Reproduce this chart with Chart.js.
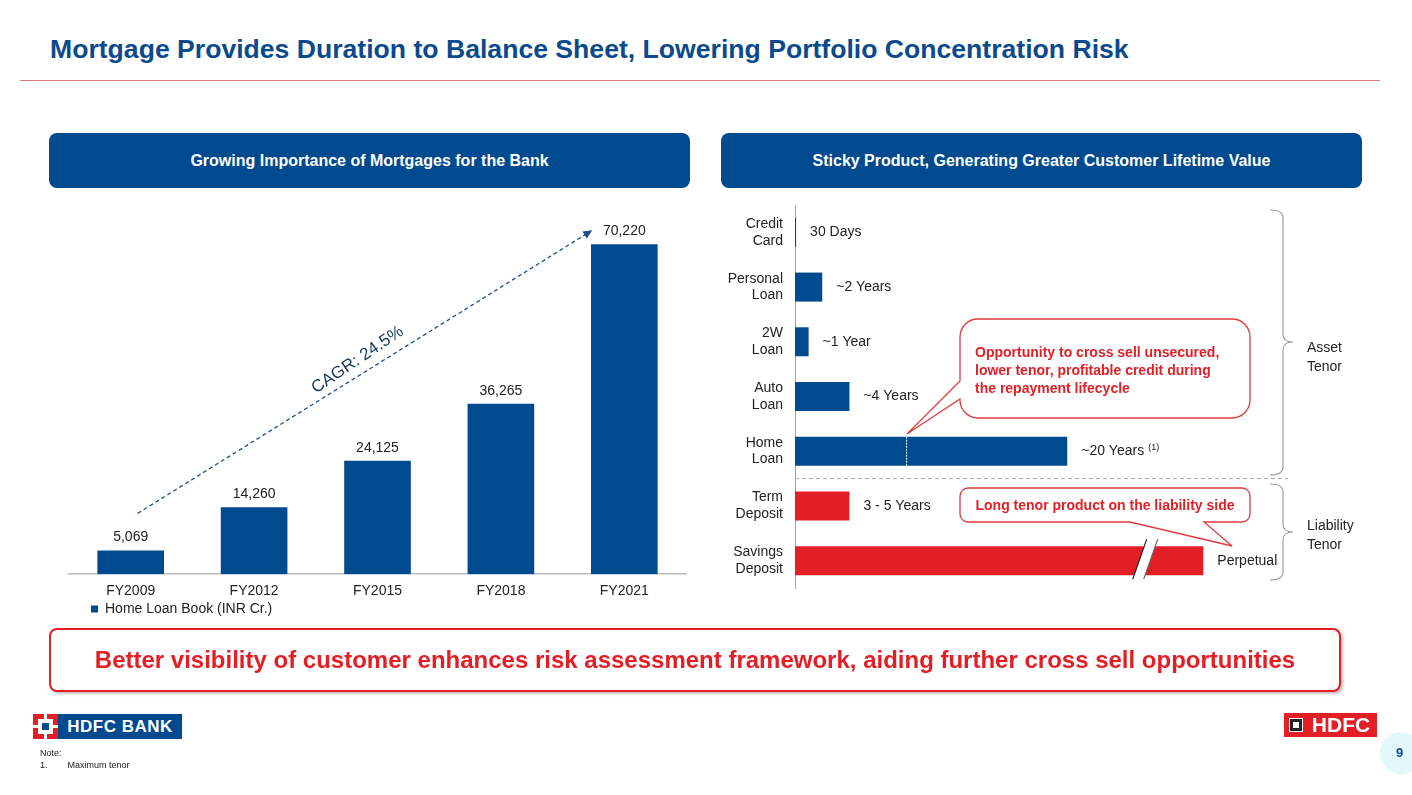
<!DOCTYPE html>
<html>
<head>
<meta charset="utf-8">
<script src="https://cdn.jsdelivr.net/npm/chart.js@4.4.1/dist/chart.umd.min.js"></script>
<style>
  body { margin:0; width:1412px; height:795px; position:relative; overflow:hidden; background:#fff;
         font-family:"Liberation Sans", Arial, sans-serif; color:#222; }
  .abs { position:absolute; }
  .title { left:50px; top:34px; font-size:26.6px; font-weight:bold; color:#0b4a8c; white-space:nowrap; }
  .rule { left:20px; top:80px; width:1360px; height:1px; background:#d9787d; }
  .hdr { top:133px; width:641px; height:55px; background:#004a8f; border-radius:8px; color:#fff;
         font-weight:bold; font-size:16px; display:flex; align-items:center; justify-content:center; }
  .banner { left:49px; top:628px; width:1288px; height:60px; border:2px solid #e31e24; border-radius:8px;
            box-shadow:2px 2px 3px rgba(0,0,0,0.25); color:#e31e24; font-weight:bold; font-size:24px;
            display:flex; align-items:center; justify-content:center; white-space:nowrap; background:#fff; }
  .side { font-size:14px; line-height:19px; color:#222; }
  .note { left:40px; top:747px; font-size:9px; line-height:12px; color:#222; }
</style>
</head>
<body>
<div class="abs title">Mortgage Provides Duration to Balance Sheet, Lowering Portfolio Concentration Risk</div>
<div class="abs rule"></div>
<div class="abs hdr" style="left:49px">Growing Importance of Mortgages for the Bank</div>
<div class="abs hdr" style="left:721px">Sticky Product, Generating Greater Customer Lifetime Value</div>

<canvas id="loanChart" class="abs" width="640" height="460" style="left:60px;top:195px"></canvas>
<canvas id="tenorChart" class="abs" width="580" height="395" style="left:720px;top:200px"></canvas>

<svg class="abs" style="left:0;top:0" width="1412" height="795">
  <path d="M978,319 H1232 A18,18 0 0 1 1250,337 V400 A18,18 0 0 1 1232,418 H978 A18,18 0 0 1 960,400 V399 L907,434 L960,381 V337 A18,18 0 0 1 978,319 Z"
        fill="#fff" stroke="#e03a3e" stroke-width="1.3"/>
  <path d="M968,488 H1242 A8,8 0 0 1 1250,496 V514 A8,8 0 0 1 1242,522 H1204 L1232,546 L1130,522 H968 A8,8 0 0 1 960,514 V496 A8,8 0 0 1 968,488 Z"
        fill="#fff" stroke="#e03a3e" stroke-width="1.3"/>
  <path d="M1270,210 Q1283,210 1283,218 V334 Q1283,342 1293,342 Q1283,342 1283,350 V467 Q1283,475 1270,475"
        fill="none" stroke="#a0a0a0" stroke-width="1.2"/>
  <path d="M1270,484 Q1283,484 1283,492 V524 Q1283,532 1293,532 Q1283,532 1283,540 V572 Q1283,580 1270,580"
        fill="none" stroke="#a0a0a0" stroke-width="1.2"/>
  <circle cx="1401" cy="753" r="21" fill="#e3f8fb"/>
</svg>

<div class="abs" style="left:975px;top:343px;font-size:14px;line-height:18px;font-weight:bold;color:#e31e24;white-space:nowrap">
  Opportunity to cross sell unsecured,<br>lower tenor, profitable credit during<br>the repayment lifecycle</div>
<div class="abs" style="left:960px;top:497px;width:290px;text-align:center;font-size:14px;font-weight:bold;color:#e31e24;white-space:nowrap">
  Long tenor product on the liability side</div>
<div class="abs side" style="left:1307px;top:338px">Asset<br>Tenor</div>
<div class="abs side" style="left:1307px;top:516px">Liability<br>Tenor</div>

<div class="abs banner">Better visibility of customer enhances risk assessment framework, aiding further cross sell opportunities</div>

<!-- logos -->
<div class="abs" style="left:33px;top:714px;width:25px;height:25px;background:#e31e24"></div>
<div class="abs" style="left:44px;top:714px;width:3px;height:25px;background:#fff"></div>
<div class="abs" style="left:33px;top:725px;width:25px;height:3px;background:#fff"></div>
<div class="abs" style="left:38px;top:719px;width:15px;height:15px;background:#fff"></div>
<div class="abs" style="left:42px;top:723px;width:7px;height:7px;background:#004a8f"></div>
<div class="abs" style="left:58px;top:714px;width:124px;height:25px;background:#004a8f;color:#fff;font-weight:bold;font-size:17px;line-height:25px;text-align:center;letter-spacing:0.5px">HDFC BANK</div>

<div class="abs" style="left:1284px;top:713px;width:93px;height:24px;background:#e31e24"></div>
<div class="abs" style="left:1289px;top:718px;width:14px;height:14px;background:#222;border:1px solid #fff;box-sizing:border-box"></div>
<div class="abs" style="left:1293px;top:722px;width:6px;height:6px;background:#fff"></div>
<div class="abs" style="left:1306px;top:713px;width:70px;height:24px;color:#fff;font-weight:bold;font-size:21px;line-height:24px;text-align:center">HDFC</div>

<div class="abs" style="left:1396px;top:745px;font-size:13px;font-weight:bold;color:#0b4a8c">9</div>
<div class="abs note">Note:<br>1.&nbsp;&nbsp;&nbsp;&nbsp;&nbsp;&nbsp;&nbsp;&nbsp;Maximum tenor</div>

<script>
// left chart data
var fiscalYears = ["FY2009", "FY2012", "FY2015", "FY2018", "FY2021"];
var homeLoanBook = [5069, 14260, 24125, 36265, 70220];
var cagrLabel = "CAGR: 24.5%";

// right chart data
var products = [["Credit", "Card"], ["Personal", "Loan"], ["2W", "Loan"], ["Auto", "Loan"],
                ["Home", "Loan"], ["Term", "Deposit"], ["Savings", "Deposit"]];
var tenorYears = [0.08, 2, 1, 4, 20, 4, 30];
var tenorLabels = ["30 Days", "~2 Years", "~1 Year", "~4 Years", "~20 Years", "3 - 5 Years", "Perpetual"];
var firstLiability = 5;

var blue = '#004a8f';
var red = '#e31e24';
var fontFamily = '"Liberation Sans", Arial, sans-serif';
Chart.defaults.font.family = fontFamily;

var loanPlugin = {
    id: 'loanLabels',
    afterLayout: function (chart) {
        // pull the legend up closer to the axis labels
        chart.legend.top -= 29;
        chart.legend.bottom -= 29;
    },
    afterDatasetsDraw: function (chart) {
        var ctx = chart.ctx;
        var bars = chart.getDatasetMeta(0).data;
        ctx.save();
        ctx.font = '14px ' + fontFamily;
        ctx.fillStyle = '#222';
        ctx.textAlign = 'center';
        ctx.textBaseline = 'bottom';
        bars.forEach(function (bar, i) {
            ctx.fillText(homeLoanBook[i].toLocaleString('en-US'), bar.x, bar.y - 6);
        });

        // CAGR arrow
        var first = bars[0], last = bars[bars.length - 1];
        var x1 = first.x + 7, y1 = first.y - 37;
        var x2 = last.x - 32, y2 = last.y - 14;
        var ang = Math.atan2(y2 - y1, x2 - x1);
        ctx.strokeStyle = '#1f4e89';
        ctx.lineWidth = 1.3;
        ctx.setLineDash([4, 3]);
        ctx.beginPath();
        ctx.moveTo(x1, y1);
        ctx.lineTo(x2 - 6 * Math.cos(ang), y2 - 6 * Math.sin(ang));
        ctx.stroke();
        ctx.setLineDash([]);
        ctx.fillStyle = '#1f4e89';
        ctx.beginPath();
        ctx.moveTo(x2, y2);
        ctx.lineTo(x2 - 9 * Math.cos(ang) + 4 * Math.sin(ang), y2 - 9 * Math.sin(ang) - 4 * Math.cos(ang));
        ctx.lineTo(x2 - 9 * Math.cos(ang) - 4 * Math.sin(ang), y2 - 9 * Math.sin(ang) + 4 * Math.cos(ang));
        ctx.closePath();
        ctx.fill();

        var mx = (x1 + x2) / 2 + 14 * Math.sin(ang);
        var my = (y1 + y2) / 2 - 14 * Math.cos(ang);
        ctx.translate(mx, my);
        ctx.rotate(ang - 0.04);
        ctx.font = '17px ' + fontFamily;
        ctx.fillStyle = '#17365d';
        ctx.textBaseline = 'middle';
        ctx.fillText(cagrLabel, 0, 0);
        ctx.restore();
    }
};

new Chart(document.getElementById('loanChart'), {
    type: 'bar',
    data: {
        labels: fiscalYears,
        datasets: [{
            label: 'Home Loan Book (INR Cr.)',
            data: homeLoanBook,
            backgroundColor: blue,
            barPercentage: 0.54,
            categoryPercentage: 1
        }]
    },
    options: {
        responsive: false,
        animation: false,
        layout: { padding: { left: 9, right: 14, top: 0, bottom: 0 } },
        plugins: {
            legend: {
                position: 'bottom',
                align: 'start',
                labels: { boxWidth: 7, boxHeight: 7, padding: 22, color: '#222', font: { size: 14 } }
            },
            tooltip: { enabled: false }
        },
        scales: {
            x: {
                grid: { display: false, drawTicks: false },
                border: { color: '#bdbdbd', width: 1.5 },
                ticks: { color: '#222', font: { size: 14 }, padding: 9 }
            },
            y: { display: false, min: 0, max: 80700 }
        }
    },
    plugins: [loanPlugin]
});

var tenorPlugin = {
    id: 'tenorLabels',
    afterDatasetsDraw: function (chart) {
        var ctx = chart.ctx;
        var bars = chart.getDatasetMeta(0).data;
        var xs = chart.scales.x, ys = chart.scales.y;
        var area = chart.chartArea;
        ctx.save();

        // white marker on home loan bar
        var home = bars[4];
        var hx = xs.getPixelForValue(8.2);
        ctx.strokeStyle = '#fff';
        ctx.lineWidth = 1;
        ctx.setLineDash([2, 1]);
        ctx.beginPath();
        ctx.moveTo(hx, home.y - home.height / 2);
        ctx.lineTo(hx, home.y + home.height / 2);
        ctx.stroke();
        ctx.setLineDash([]);

        // break mark on savings bar
        var sav = bars[6];
        var bx = xs.getPixelForValue(25.4);
        var top = sav.y - sav.height / 2 - 7, bot = sav.y + sav.height / 2 + 4;
        ctx.fillStyle = '#fff';
        ctx.beginPath();
        ctx.moveTo(bx - 8, bot);
        ctx.lineTo(bx + 6, top);
        ctx.lineTo(bx + 17, top);
        ctx.lineTo(bx + 3, bot);
        ctx.closePath();
        ctx.fill();
        ctx.strokeStyle = '#222';
        ctx.lineWidth = 1.2;
        ctx.beginPath();
        ctx.moveTo(bx - 8, bot); ctx.lineTo(bx + 6, top);
        ctx.stroke();
        ctx.strokeStyle = '#666';
        ctx.beginPath();
        ctx.moveTo(bx + 3, bot); ctx.lineTo(bx + 17, top);
        ctx.stroke();

        // asset / liability separator
        var sy = (ys.getPixelForValue(firstLiability - 1) + ys.getPixelForValue(firstLiability)) / 2;
        ctx.strokeStyle = '#aaa';
        ctx.lineWidth = 1;
        ctx.setLineDash([4, 3]);
        ctx.beginPath();
        ctx.moveTo(area.left, sy);
        ctx.lineTo(area.right + 3, sy);
        ctx.stroke();
        ctx.setLineDash([]);

        // value labels
        ctx.font = '14px ' + fontFamily;
        ctx.fillStyle = '#222';
        ctx.textBaseline = 'middle';
        bars.forEach(function (bar, i) {
            var lx = bar.x + 14;
            ctx.fillText(tenorLabels[i], lx, bar.y);
            if (i === 4) {
                var w = ctx.measureText(tenorLabels[i]).width;
                ctx.font = '9px ' + fontFamily;
                ctx.fillText('(1)', lx + w + 4, bar.y - 4);
                ctx.font = '14px ' + fontFamily;
            }
        });
        ctx.restore();
    }
};

new Chart(document.getElementById('tenorChart'), {
    type: 'bar',
    data: {
        labels: products,
        datasets: [{
            data: tenorYears,
            backgroundColor: tenorYears.map(function (v, i) { return i < firstLiability ? blue : red; }),
            barPercentage: 0.53,
            categoryPercentage: 1
        }]
    },
    options: {
        indexAxis: 'y',
        responsive: false,
        animation: false,
        layout: { padding: { top: 5, bottom: 7, right: 15, left: 0 } },
        plugins: { legend: { display: false }, tooltip: { enabled: false } },
        scales: {
            x: { display: false, min: 0, max: 36 },
            y: {
                grid: { display: false, drawTicks: false },
                border: { color: '#a0a0a0' },
                ticks: { color: '#222', font: { size: 14, lineHeight: 1.2 }, padding: 12 },
                afterFit: function (scale) {
                    scale.width = 75;
                    scale.paddingTop = 0;
                    scale.paddingBottom = 0;
                }
            }
        }
    },
    plugins: [tenorPlugin]
});
</script>
</body>
</html>
